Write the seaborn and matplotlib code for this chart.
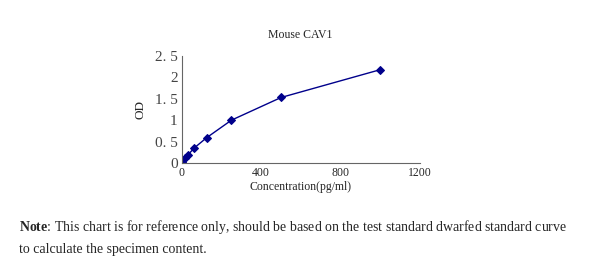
import matplotlib
matplotlib.use("Agg")
import matplotlib.pyplot as plt
import seaborn as sns
import pandas as pd

conc = [0, 15.6, 31.25, 62.5, 125, 250, 500, 1000]
od = [0.03, 0.11, 0.19, 0.35, 0.59, 1.0, 1.53, 2.18]
xticks = [0, 400, 800, 1200]
yticks = [0, 0.5, 1, 1.5, 2, 2.5]
ylabels = ["0", "0. 5", "1", "1. 5", "2", "2. 5"]

sns.set_style("white")
plt.rcParams['font.family'] = ['Liberation Serif', 'DejaVu Serif']
plt.rcParams['mathtext.fontset'] = 'custom'
plt.rcParams['mathtext.rm'] = 'Liberation Serif'
plt.rcParams['mathtext.bf'] = 'Liberation Serif:bold'

df = pd.DataFrame({"conc": conc, "od": od})
fig = plt.figure(figsize=(6, 2.73), dpi=100)
ax = fig.add_axes([0.303, 0.403, 0.397, 0.392])
sns.lineplot(data=df, x="conc", y="od", ax=ax, color="#00008B", lw=1.0,
             marker="D", markersize=4.5, markeredgecolor="#00008B")
ax.set_xlim(0, 1200)
ax.set_ylim(0, 2.5)
ax.set_xticks(xticks)
ax.set_xticklabels([str(t) for t in xticks], fontsize=8.5)
ax.set_yticks(yticks)
ax.set_yticklabels(ylabels, fontsize=11, color="#444444")
ax.tick_params(direction="in", length=3, color="#666666", pad=3)
for s in ["top", "right"]:
    ax.spines[s].set_visible(False)
for s in ["left", "bottom"]:
    ax.spines[s].set_color("#666666")
    ax.spines[s].set_linewidth(0.8)
ax.set_xlabel("Concentration(pg/ml)", fontsize=8.5, labelpad=1)
ax.set_ylabel("OD", fontsize=9.5, labelpad=6)
fig.text(0.5, 0.86, "Mouse CAV1", fontsize=8.5, ha="center")
fig.text(0.032, 0.155, r"$\mathbf{Note}$: This chart is for reference only, should be based on the test standard dwarfed standard curve", fontsize=10)
fig.text(0.032, 0.075, "to calculate the specimen content.", fontsize=10)
fig.savefig("out.png", dpi=100)
